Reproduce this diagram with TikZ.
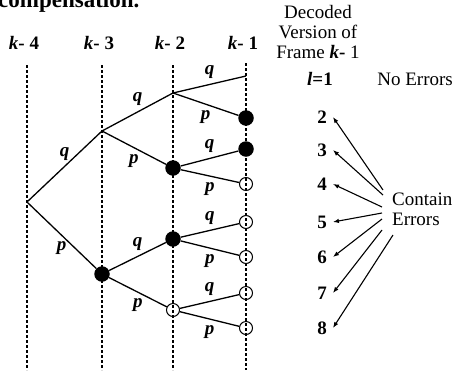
\documentclass[tikz,border=0pt]{standalone}
\usepackage{fontspec}
\setmainfont{Liberation Serif}
\usetikzlibrary{arrows.meta,positioning}
\begin{document}
\begin{tikzpicture}[
  x=1pt,y=-1pt,
  font=\fontsize{19}{20}\selectfont,
  frame/.style={dash pattern=on 3pt off 2pt,line width=1.4pt},
  branch/.style={line width=1.3pt},
  full/.style={circle,fill=black,minimum size=15.5pt,inner sep=0pt},
  hollow/.style={circle,draw,line width=1pt,minimum size=13pt,inner sep=0pt},
  lq/.style={above=4.5pt,inner sep=1pt,font=\fontsize{19}{20}\selectfont\bfseries\itshape},
  lp/.style={below=5pt,inner sep=1pt,font=\fontsize{19}{20}\selectfont\bfseries\itshape},
  num/.style={font=\fontsize{19}{20}\selectfont\bfseries,inner xsep=6pt,inner ysep=2pt},
  arrow/.style={-{Latex[length=6pt,width=4.5pt]},line width=1.1pt}]
\useasboundingbox (0,0) rectangle (454,375);
\node[anchor=base west,inner sep=0pt,font=\fontsize{23}{24}\selectfont\bfseries] (cap) at (-2,7) {compensation.};
\node[font=\fontsize{19}{20}\selectfont\bfseries] (k4) at (24,43) {\textit{k}- 4};
\node[font=\fontsize{19}{20}\selectfont\bfseries] (k3) at (99,43) {\textit{k}- 3};
\node[font=\fontsize{19}{20}\selectfont\bfseries] (k2) at (170,43) {\textit{k}- 2};
\node[font=\fontsize{19}{20}\selectfont\bfseries] (k1) at (243,43) {\textit{k}- 1};
\coordinate (t4) at (27,65); \coordinate (b4) at (27,370);
\coordinate (t3) at (102,65); \coordinate (b3) at (102,370);
\coordinate (t2) at (173,65); \coordinate (b2) at (173,370);
\coordinate (t1) at (246,63); \coordinate (b1) at (246,370);
\draw[frame] (t4)--(b4); \draw[frame] (t3)--(b3);
\draw[frame] (t2)--(b2); \draw[frame] (t1)--(b1);
\coordinate (r) at (27,202);
\coordinate (a) at (102,131);
\node[full] (b) at (102,274) {};
\coordinate (c1) at (173,93);
\node[full] (c2) at (173,168) {};
\node[full] (c3) at (173,239) {};
\node[hollow] (c4) at (173,310) {};
\coordinate (d1) at (246,76);
\node[full] (d2) at (246,118) {};
\node[full] (d3) at (246,149) {};
\node[hollow] (d4) at (246,184) {};
\node[hollow] (d5) at (246,222) {};
\node[hollow] (d6) at (246,257) {};
\node[hollow] (d7) at (246,293) {};
\node[hollow] (d8) at (246,328) {};
\draw[branch] (r)--node[lq] {q} (a); \draw[branch] (r)--node[lp] {p} (b);
\draw[branch] (a)--node[lq] {q} (c1); \draw[branch] (a)--node[lp] {p} (c2);
\draw[branch] (b)--node[lq] {q} (c3); \draw[branch] (b)--node[lp] {p} (c4);
\draw[branch] (c1)--node[lq] {q} (d1); \draw[branch] (c1)--node[lp] {p} (d2);
\draw[branch] (c2)--node[lq] {q} (d3); \draw[branch] (c2)--node[lp] {p} (d4);
\draw[branch] (c3)--node[lq] {q} (d5); \draw[branch] (c3)--node[lp] {p} (d6);
\draw[branch] (c4)--node[lq] {q} (d7); \draw[branch] (c4)--node[lp] {p} (d8);
\node[align=center] (dec) at (318,32) {Decoded\\Version of\\Frame \textbf{\textit{k}-} 1};
\node[font=\fontsize{19}{20}\selectfont\bfseries] (l1) at (320,79) {\textit{l}=1};
\node[anchor=east,inner sep=0pt] (ok) at (453,79) {No Errors};
\node[num] (n2) at (322,117) {2};
\node[num] (n3) at (322,150) {3};
\node[num] (n4) at (322,184) {4};
\node[num] (n5) at (322,222) {5};
\node[num] (n6) at (322,257) {6};
\node[num] (n7) at (322,293) {7};
\node[num] (n8) at (322,328) {8};
\node[anchor=west,align=left,inner sep=0pt] (ce) at (392,209) {Contain\\Errors};
\draw[arrow] ([shift={(-9,-19)}]ce.west)--(n2.east); \draw[arrow] ([shift={(-9,-14)}]ce.west)--(n3.east);
\draw[arrow] ([shift={(-10,-2)}]ce.west)--(n4.east); \draw[arrow] ([shift={(-10,4)}]ce.west)--(n5.east);
\draw[arrow] ([shift={(-10,10)}]ce.west)--(n6.east); \draw[arrow] ([shift={(-10,21)}]ce.west)--(n7.east);
\draw[arrow] ([shift={(1,26)}]ce.west)--(n8.east);
\end{tikzpicture}
\end{document}
